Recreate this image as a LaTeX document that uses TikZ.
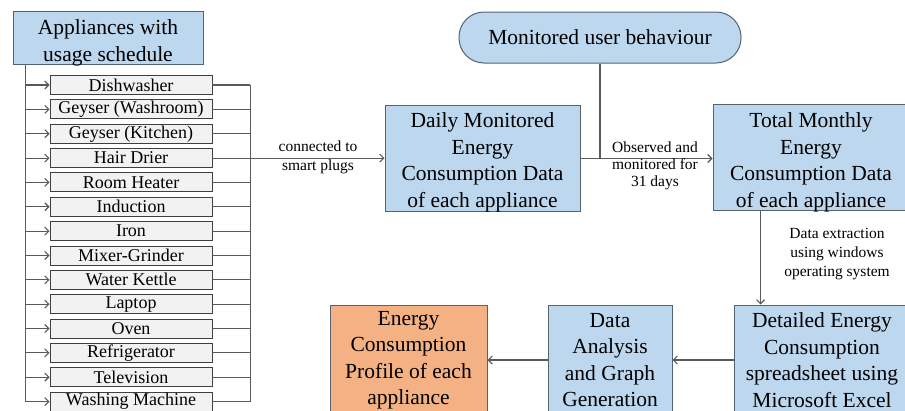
\documentclass[tikz,border=0pt]{standalone}
\usepackage{fontspec}
\setmainfont{Liberation Serif}
\usetikzlibrary{arrows.meta}
\definecolor{boxblue}{HTML}{BDD7EE}
\definecolor{boxorange}{HTML}{F4B183}
\definecolor{appfill}{HTML}{F2F2F2}
\definecolor{boxedge}{HTML}{55636F}
\definecolor{appedge}{HTML}{3F3F3F}
\definecolor{wire}{HTML}{5A5A5A}
% set a centred text block a little lower inside its box
\newcommand{\droptext}[2]{\raisebox{-#1}[\height][\depth]{\begin{tabular}{@{}c@{}}#2\end{tabular}}}
\tikzset{
  bluebox/.style={draw=boxedge, fill=boxblue, line width=1pt, align=center,
    inner sep=0pt, font=\rmfamily\fontsize{21.5}{26.5}\selectfont},
  appbox/.style={draw=appedge, fill=appfill, line width=0.9pt, minimum width=162pt,
    minimum height=19pt, inner sep=0pt, font=\rmfamily\fontsize{18}{20}\selectfont},
  conn/.style={draw=wire, line width=1.1pt},
  arr/.style={conn, -{Straight Barb[length=4pt,width=8pt]}},
  lbl/.style={align=center, inner sep=0pt, font=\rmfamily\fontsize{15.5}{18}\selectfont},
}
\begin{document}
\begin{tikzpicture}[x=1pt,y=-1pt]
\useasboundingbox (0,0) rectangle (905,410);
\clip (0,0) rectangle (905,410);

% appliance list
\node[bluebox, minimum width=190pt, minimum height=52pt] (sched) at (108,38)
  {\droptext{4.5pt}{Appliances with\\usage schedule}};
\coordinate (trunktop) at ([xshift=13pt]sched.south west);
\foreach \name [count=\i from 0] in {Dishwasher, Geyser (Washroom), Geyser (Kitchen),
    Hair Drier, Room Heater, Induction, Iron, Mixer-Grinder, Water Kettle, Laptop,
    Oven, Refrigerator, Television, Washing Machine}{
  \node[appbox] (a\i) at (131, 85+24.35*\i) {\name};
  \coordinate (lt\i) at (trunktop |- a\i.west);
  \coordinate (rt\i) at ([xshift=38pt]a\i.east);
  \draw[arr] (lt\i) -- (a\i.west);
  \draw[conn] (a\i.east) -- (rt\i);
}
\draw[conn] (trunktop) -- (lt13);
\draw[conn] (rt0) -- (rt13);

% monitoring chain
\node[bluebox, minimum width=195pt, minimum height=105pt] (daily) at (482.5,158.5)
  {\droptext{3.5pt}{Daily Monitored\\Energy\\Consumption Data\\of each appliance}};
\node[bluebox, rounded corners=25pt, minimum width=282pt, minimum height=51pt] (mon)
  at (600,37.5) {Monitored user behaviour};
\node[bluebox, minimum width=196pt, minimum height=105pt] (total) at (811,157.5)
  {\droptext{4.5pt}{Total Monthly\\Energy\\Consumption Data\\of each appliance}};
\node[bluebox, minimum width=176pt, minimum height=110pt] (detail) at (822,360)
  {Detailed Energy\\Consumption\\spreadsheet using\\Microsoft Excel};
\node[bluebox, minimum width=124pt, minimum height=110pt] (analysis) at (610,360)
  {Data\\Analysis\\and Graph\\Generation};
\node[bluebox, fill=boxorange, minimum width=157pt, minimum height=110pt] (profile)
  at (408.5,360) {Energy\\Consumption\\Profile of each\\appliance};

\draw[arr] (rt3) -- (rt3 -| daily.west);
\node[lbl, font=\rmfamily\fontsize{15.5}{19}\selectfont] (plugs) at (318,157.5)
  {connected to\\smart plugs};

\draw[conn] (mon.south) -- (mon.south |- daily.east);
\draw[arr] (daily.east) -- (daily.east -| total.west);
\node[lbl, font=\rmfamily\fontsize{15.5}{17}\selectfont] (obs) at (655,166)
  {Observed and\\monitored for\\31 days};

\coordinate (down) at ([xshift=48pt]total.south west);
\draw[arr] (down) -- (down |- detail.north);
\node[lbl, font=\rmfamily\fontsize{15.5}{19}\selectfont] (extract) at (837,254)
  {Data extraction\\using windows\\operating system};

\draw[arr] (detail.west) -- (analysis.east);
\draw[arr] (analysis.west) -- (profile.east);
\end{tikzpicture}
\end{document}
